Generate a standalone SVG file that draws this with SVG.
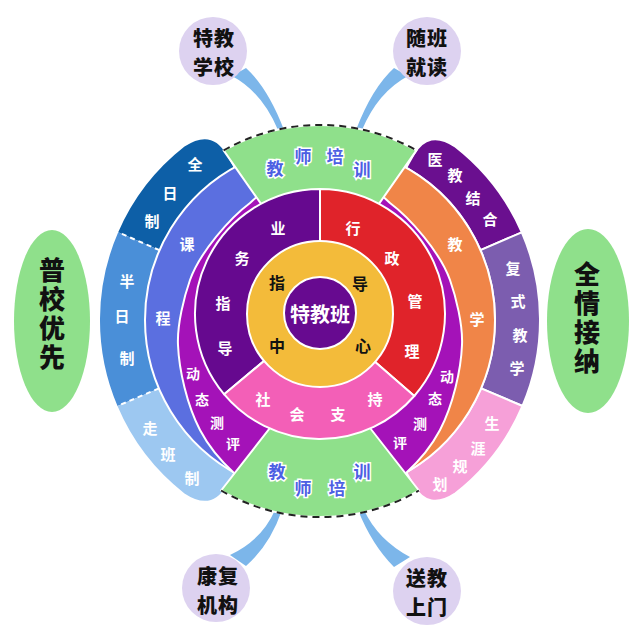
<svg xmlns="http://www.w3.org/2000/svg" width="640" height="640" viewBox="0 0 640 640">
<style>
text{font-family:"Noto Sans CJK SC","Noto Sans CJK JP",sans-serif;text-anchor:middle;dominant-baseline:central;font-weight:700}
.w{font-size:15px;fill:#fff}
.m{font-size:14px;fill:#fff}
.g{font-size:17px;fill:#4d5fe3;stroke:#fff;stroke-width:3;paint-order:stroke}
.k{font-size:16px;fill:#111}
.c{font-size:20px;fill:#fff}
.b{font-size:20px;fill:#111;font-weight:900;letter-spacing:1px}
.e{font-size:26px;fill:#111;font-weight:900;writing-mode:vertical-rl;text-orientation:upright;letter-spacing:3px}
.ws{stroke:#fff;stroke-width:2;stroke-linejoin:round}
.dash{fill:none;stroke:#222;stroke-width:2;stroke-dasharray:7 5}
.wd{fill:none;stroke:#fff;stroke-width:2;stroke-dasharray:5 4}
.tail{fill:#7cb6ea}
.bub{fill:#ddd2f0}
.ell{fill:#8fe08b}
</style>
<rect width="640" height="640" fill="#fff"/>

<g id="connectors">
<path class="tail" d="M232,76 Q262,92 278,130 L284,130 Q268,88 246,68 Z"/>
<path class="tail" d="M408,76 Q378,92 362,130 L356,130 Q372,88 394,68 Z"/>
<path class="tail" d="M275,510 Q262,540 230,555 L246,566 Q270,545 282,510 Z"/>
<path class="tail" d="M358,510 Q372,545 394,567 L410,557 Q378,540 364,510 Z"/>
</g>

<g id="outer-left">
<path fill="#0d5fa7" d="M118.2,232.3 A220,220 0 0 1 184.5,146.6 Q211.7,128.5 226.4,154.6 L233.8,167.7 A175,175 0 0 0 159.5,250.2 Z"/>
<path fill="#4a8fd8" d="M117.5,406 A220,220 0 0 1 118.2,232.3 L159.5,250.2 A175,175 0 0 0 158.9,388.4 Z"/>
<path fill="#9dc8f1" d="M184.5,493.4 A220,220 0 0 1 117.5,406 L158.9,388.4 A175,175 0 0 0 233.8,472.3 L226.4,485.4 Q211.7,511.5 184.5,493.4 Z"/>
<path class="wd" d="M159.5,250.2 L118.2,232.3 M158.9,388.4 L117.5,406"/>
</g>

<g id="outer-right">
<path class="ws" fill="#6a0f8f" d="M521.8,232.3 A220,220 0 0 0 455.5,146.6 Q428.3,128.5 413.6,154.6 L406.2,167.7 A175,175 0 0 1 480.5,250.2 Z"/>
<path class="ws" fill="#7c5daf" d="M522.5,406 A220,220 0 0 0 521.8,232.3 L480.5,250.2 A175,175 0 0 1 481.1,388.4 Z"/>
<path class="ws" fill="#f6a0d8" d="M455.5,493.4 A220,220 0 0 0 522.5,406 L481.1,388.4 A175,175 0 0 1 406.2,472.3 L413.6,485.4 Q428.3,511.5 455.5,493.4 Z"/>
</g>

<g id="course-teach">
<path class="ws" fill="#5b6fe0" d="M320,320 L240.5,164.1 A175,175 0 0 0 240.5,475.9 Z"/>
<path class="ws" fill="#f08548" d="M320,320 L399.5,164.1 A175,175 0 0 1 399.5,475.9 Z"/>
</g>

<g id="assessment">
<path class="ws" fill="#a412b8" d="M262,192 L250,203 C230,218 200,252 190,280 C184,297 177,325 178,345 C179,370 187,405 200,430 C210,449 222,462 234,473 L270,500 L370,500 L406,473 C418,462 430,449 440,430 C453,405 461,370 462,345 C463,325 456,297 450,280 C440,252 410,218 390,203 L378,192 Z"/>
</g>

<g id="training-top">
<path class="ws" fill="#8fe08b" d="M320,288 L223.6,150.4 A195,195 0 0 1 416.4,150.4 Z"/>
<path class="dash" d="M223.6,150.4 A195,195 0 0 1 416.4,150.4"/>
</g>
<g id="training-bottom">
<path class="ws" fill="#8fe08b" d="M320,364 L221.1,490.5 A197,197 0 0 0 418.9,490.5 Z"/>
<path class="dash" d="M221.1,490.5 A197,197 0 0 0 418.9,490.5"/>
</g>

<g id="inner-ring">
<path class="ws" fill="#66098f" d="M320,314 L224.2,394.3 A125,125 0 0 1 320,189 Z"/>
<path class="ws" fill="#e0232a" d="M320,314 L320,189 A125,125 0 0 1 414.3,396 Z"/>
<path class="ws" fill="#f35fb7" d="M320,314 L414.3,396 A125,125 0 0 1 224.2,394.3 Z"/>
</g>
<g id="guidance-center">
<circle class="ws" cx="320" cy="314" r="73" fill="#f3bb3a"/>
</g>
<g id="special-class">
<circle class="ws" cx="320" cy="313" r="36" fill="#670a90"/>
<text class="c" x="320" y="313">特教班</text>
</g>

<g id="labels">
<text class="w" x="195" y="163">全</text><text class="w" x="170" y="192">日</text><text class="w" x="152" y="220">制</text>
<text class="w" x="127" y="280">半</text><text class="w" x="122" y="315">日</text><text class="w" x="127" y="357">制</text>
<text class="w" x="150" y="427">走</text><text class="w" x="168" y="453">班</text><text class="w" x="192" y="477">制</text>
<text class="w" x="435" y="158">医</text><text class="w" x="455" y="174">教</text><text class="w" x="473" y="197">结</text><text class="w" x="490" y="218">合</text>
<text class="w" x="513" y="267">复</text><text class="w" x="518" y="300">式</text><text class="w" x="520" y="334">教</text><text class="w" x="517" y="367">学</text>
<text class="w" x="492" y="422">生</text><text class="w" x="478" y="447">涯</text><text class="w" x="460" y="465">规</text><text class="w" x="440" y="483">划</text>
<text class="w" x="187" y="243">课</text><text class="w" x="163" y="317">程</text>
<text class="w" x="455" y="243">教</text><text class="w" x="477" y="318">学</text>
<text class="m" x="193" y="373">动</text><text class="m" x="202" y="399">态</text><text class="m" x="217" y="422">测</text><text class="m" x="233" y="443">评</text>
<text class="m" x="447" y="376">动</text><text class="m" x="435" y="398">态</text><text class="m" x="420" y="423">测</text><text class="m" x="400" y="442">评</text>
<text class="g" x="275" y="167">教</text><text class="g" x="303" y="155">师</text><text class="g" x="335" y="155">培</text><text class="g" x="362" y="168">训</text>
<text class="g" x="277" y="470">教</text><text class="g" x="303" y="487">师</text><text class="g" x="337" y="487">培</text><text class="g" x="362" y="470">训</text>
<text class="w" x="278" y="227">业</text><text class="w" x="242" y="257">务</text><text class="w" x="223" y="302">指</text><text class="w" x="225" y="347">导</text>
<text class="w" x="353" y="227">行</text><text class="w" x="392" y="257">政</text><text class="w" x="415" y="300">管</text><text class="w" x="412" y="350">理</text>
<text class="w" x="263" y="398">社</text><text class="w" x="297" y="413">会</text><text class="w" x="338" y="413">支</text><text class="w" x="375" y="398">持</text>
<text class="k" x="277" y="282">指</text><text class="k" x="360" y="283">导</text><text class="k" x="277" y="345">中</text><text class="k" x="363" y="345">心</text>
</g>

<g id="bubble-special-school">
<circle class="bub" cx="213" cy="51" r="34"/>
<text class="b" x="214" y="37">特教</text><text class="b" x="214" y="66">学校</text>
</g>
<g id="bubble-inclusion">
<circle class="bub" cx="427" cy="51" r="34"/>
<text class="b" x="427" y="37">随班</text><text class="b" x="427" y="66">就读</text>
</g>
<g id="bubble-rehab">
<circle class="bub" cx="216" cy="588" r="34"/>
<text class="b" x="218" y="575">康复</text><text class="b" x="218" y="604">机构</text>
</g>
<g id="bubble-home">
<circle class="bub" cx="427" cy="591" r="34"/>
<text class="b" x="427" y="577">送教</text><text class="b" x="427" y="606">上门</text>
</g>

<g id="ellipse-left">
<ellipse class="ell" cx="52" cy="321" rx="38" ry="91"/>
<text class="e" x="52" y="315">普校优先</text>
</g>
<g id="ellipse-right">
<ellipse class="ell" cx="588" cy="321" rx="41" ry="92"/>
<text class="e" x="587" y="319">全情接纳</text>
</g>
</svg>
